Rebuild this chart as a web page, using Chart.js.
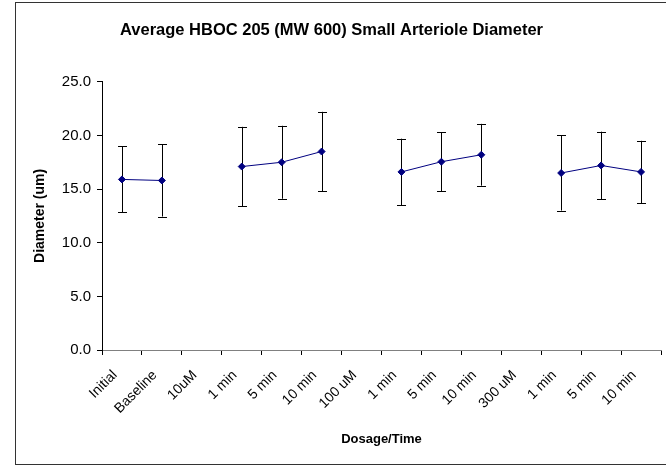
<!DOCTYPE html>
<html>
<head>
<meta charset="utf-8">
<script src="https://cdn.jsdelivr.net/npm/chart.js@4.4.0/dist/chart.umd.min.js"></script>
<style>
  html, body { margin: 0; padding: 0; background: #fff; }
  #wrap { position: relative; width: 666px; height: 468px; }
  #frame { position: absolute; left: 15px; top: 2px; width: 652px; height: 463px; border: 1px solid #333; box-sizing: border-box; }
  canvas { position: absolute; left: 0; top: 0; }
</style>
</head>
<body>
<div id="wrap">
  <div id="frame"></div>
  <canvas id="chart" width="666" height="468"></canvas>
</div>
<script>
// categories along the x axis (dosage headers carry no value)
var labels = ["Initial", "Baseline", "10uM", "1 min", "5 min", "10 min", "100 uM",
              "1 min", "5 min", "10 min", "300 uM", "1 min", "5 min", "10 min"];
// mean diameter (um)
var diameter = [15.9, 15.8, null, 17.1, 17.5, 18.5, null, 16.6, 17.55, 18.2, null, 16.5, 17.2, 16.6];
// +/- error (um)
var errors = [3.08, 3.36, null, 3.7, 3.4, 3.7, null, 3.1, 2.75, 2.88, null, 3.5, 3.15, 2.9];
var yTicks = [0, 5, 10, 15, 20, 25];

var fontFamily = "'Liberation Sans', Arial, sans-serif";

var errorBars = {
  id: 'errorBars',
  beforeDatasetsDraw: function (chart) {
    var ctx = chart.ctx;
    var x = chart.scales.x, y = chart.scales.y;
    ctx.save();
    ctx.strokeStyle = '#000';
    ctx.lineWidth = 1;
    diameter.forEach(function (v, i) {
      if (v === null) return;
      var px = Math.round(x.getPixelForValue(i)) + 0.5;
      var top = y.getPixelForValue(v + errors[i]);
      var bot = y.getPixelForValue(v - errors[i]);
      ctx.beginPath();
      ctx.moveTo(px, top); ctx.lineTo(px, bot);
      ctx.moveTo(px - 4.5, Math.round(top) + 0.5); ctx.lineTo(px + 4.5, Math.round(top) + 0.5);
      ctx.moveTo(px - 4.5, Math.round(bot) + 0.5); ctx.lineTo(px + 4.5, Math.round(bot) + 0.5);
      ctx.stroke();
    });
    ctx.restore();
  }
};

new Chart(document.getElementById('chart'), {
  type: 'line',
  data: {
    labels: labels,
    datasets: [{
      data: diameter,
      borderColor: '#000080',
      backgroundColor: '#000080',
      borderWidth: 1,
      pointStyle: 'rectRot',
      pointRadius: 3.5,
      pointBorderWidth: 1,
      pointBorderColor: '#000080',
      pointBackgroundColor: '#000080',
      spanGaps: false,
      tension: 0
    }]
  },
  options: {
    responsive: false,
    animation: false,
    layout: { padding: { left: 0, right: 3, top: 0, bottom: 0 } },
    plugins: {
      legend: { display: false },
      tooltip: { enabled: false },
      title: {
        display: true,
        text: 'Average HBOC 205 (MW 600) Small Arteriole Diameter',
        color: '#000',
        font: { family: fontFamily, size: 16.5, weight: 'bold' },
        padding: { top: 21, bottom: 41 }
      }
    },
    scales: {
      x: {
        offset: true,
        grid: { offset: true, drawOnChartArea: false, tickLength: 5, tickColor: '#000' },
        border: { color: '#808080', width: 1 },
        ticks: {
          autoSkip: false, maxRotation: 45, minRotation: 45, padding: 12, labelOffset: -7,
          color: '#000', font: { family: fontFamily, size: 14 }
        },
        title: {
          display: true, text: 'Dosage/Time', color: '#000',
          font: { family: fontFamily, size: 13, weight: 'bold' },
          padding: { top: 0, bottom: 21 }
        },
        afterFit: function (s) { s.height = 118; }
      },
      y: {
        min: 0, max: 25,
        afterBuildTicks: function (s) { s.ticks = yTicks.map(function (v) { return { value: v }; }); },
        grid: { drawOnChartArea: false, tickLength: 5, tickColor: '#000' },
        border: { color: '#000', width: 1 },
        ticks: {
          padding: 6, color: '#000', font: { family: fontFamily, size: 15 },
          callback: function (v) { return Number(v).toFixed(1); }
        },
        title: {
          display: true, text: 'Diameter (um)', color: '#000',
          font: { family: fontFamily, size: 14, weight: 'bold' },
          padding: { top: 32, bottom: 0 }
        },
        afterFit: function (s) { s.width = 102; }
      }
    }
  },
  plugins: [errorBars]
});
</script>
</body>
</html>
